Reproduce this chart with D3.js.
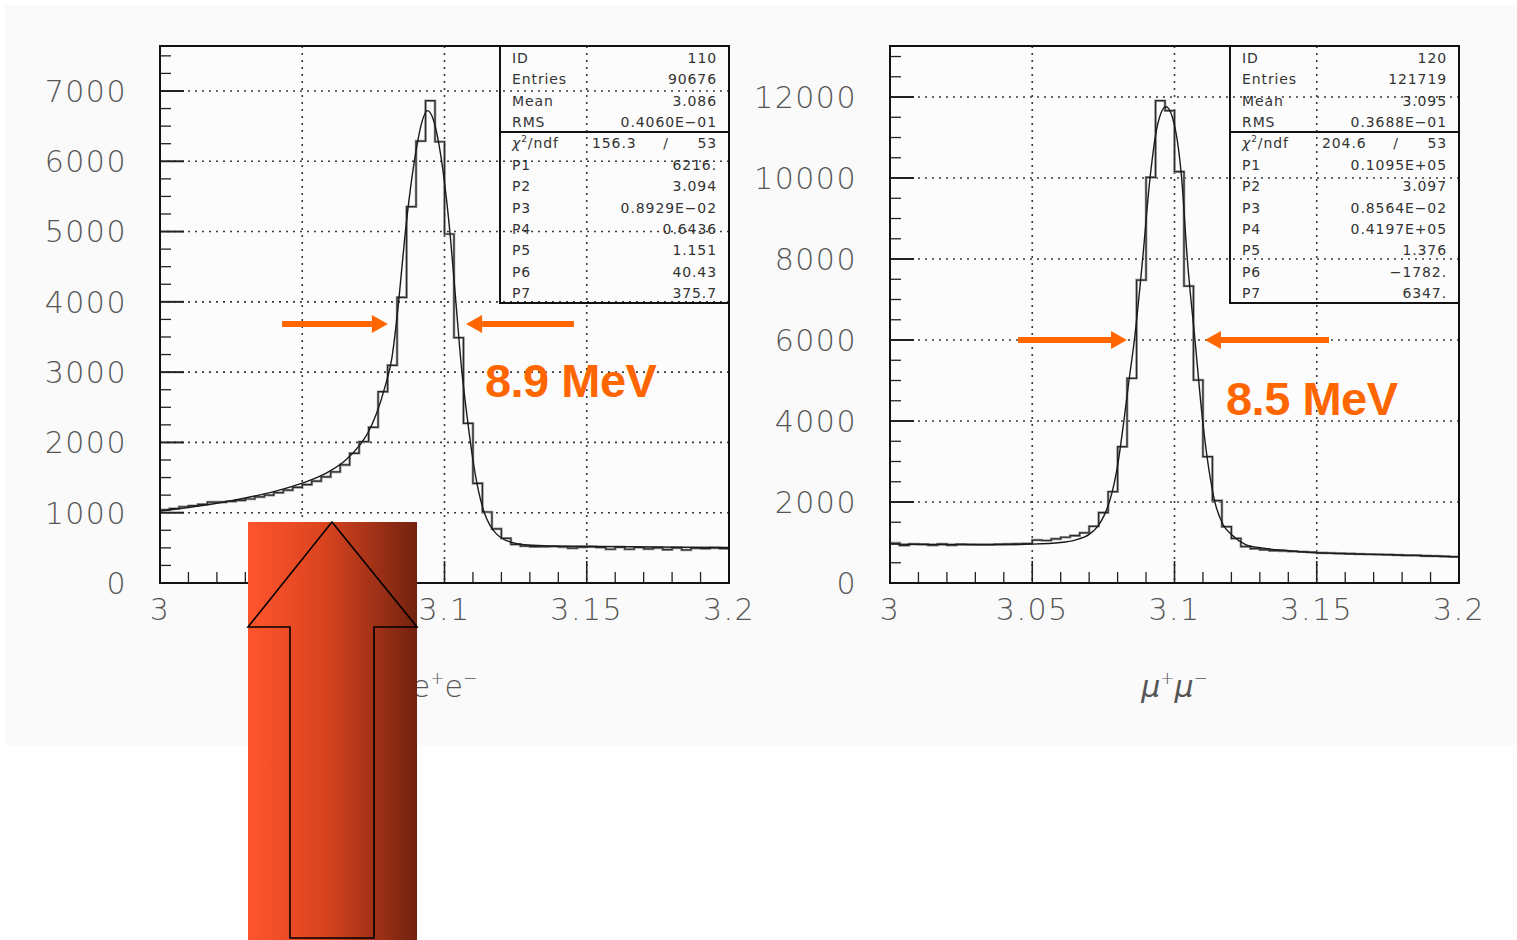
<!DOCTYPE html>
<html>
<head>
<meta charset="utf-8">
<script src="https://cdn.jsdelivr.net/npm/d3@7/dist/d3.min.js"></script>
<style>
  html, body { margin: 0; padding: 0; background: #ffffff; }
  svg { display: block; }
</style>
</head>
<body>
<svg id="chart" width="1517" height="940"></svg>
<script>
// ---------------- DATA ----------------
const massRange = [3.0, 3.2];
const nBins = 60;

// e+e- histogram, 60 bins from 3.0 to 3.2
const eeCounts = [
  1040, 1060, 1085, 1100, 1120, 1150, 1150, 1160, 1175, 1195,
  1225, 1250, 1285, 1320, 1360, 1400, 1450, 1510, 1580, 1680,
  1845, 2010, 2215, 2722, 3097, 4064, 5354, 6288, 6862, 6278,
  4965, 3490, 2272, 1418, 1010, 770, 636, 550, 526, 518,
  516, 520, 512, 495, 510, 515, 505, 480, 510, 480,
  505, 485, 500, 475, 500, 470, 495, 490, 500, 490
];
// e+e- fit curve (mass, counts)
const eeFitMass = [3.000, 3.010, 3.020, 3.030, 3.040, 3.050, 3.060, 3.065, 3.070, 3.073,
  3.076, 3.079, 3.0815, 3.084, 3.086, 3.088, 3.090, 3.092, 3.094, 3.096,
  3.098, 3.100, 3.102, 3.104, 3.106, 3.108, 3.110, 3.112, 3.114, 3.116,
  3.118, 3.120, 3.124, 3.128, 3.135, 3.150, 3.175, 3.200];
const eeFitCounts = [1025, 1075, 1135, 1210, 1300, 1420, 1600, 1740, 1950, 2130,
  2400, 2780, 3200, 4050, 4900, 5600, 6150, 6550, 6720, 6600,
  6250, 5700, 4950, 4000, 3050, 2350, 1750, 1300, 1000, 820,
  710, 640, 575, 545, 530, 522, 512, 505];

// mu+mu- histogram, 60 bins
const mmCounts = [
  975, 930, 960, 955, 935, 960, 935, 955, 950, 945,
  945, 955, 960, 965, 975, 1060, 1050, 1090, 1130, 1170,
  1240, 1400, 1737, 2255, 3366, 5054, 7481, 10017, 11909, 11662,
  10157, 7333, 5012, 3119, 2033, 1390, 1100, 900, 850, 820,
  800, 790, 780, 770, 760, 745, 740, 735, 725, 715,
  710, 705, 700, 690, 680, 685, 670, 665, 655, 650
];
const mmFitMass = [3.000, 3.020, 3.040, 3.050, 3.060, 3.065, 3.070, 3.073, 3.0755, 3.0771,
  3.080, 3.0822, 3.084, 3.0859, 3.0888, 3.0914, 3.094, 3.097, 3.100, 3.1025,
  3.1045, 3.1072, 3.1099, 3.1142, 3.117, 3.120, 3.125, 3.130, 3.140, 3.150,
  3.175, 3.200];
const mmFitCounts = [960, 950, 950, 960, 1000, 1060, 1200, 1400, 1700, 2000,
  2900, 4000, 5000, 6000, 8000, 10000, 11300, 11760, 11300, 10000,
  8000, 6000, 4000, 2000, 1450, 1200, 950, 870, 800, 745,
  700, 645];

// axes
const xTickValues = [3, 3.05, 3.1, 3.15, 3.2];
const xTickLabels = ["3", "3.05", "3.1", "3.15", "3.2"];
const eeYTicks = [0, 1000, 2000, 3000, 4000, 5000, 6000, 7000];
const mmYTicks = [0, 2000, 4000, 6000, 8000, 10000, 12000];
const eeYMax = 7640;
const mmYMax = 13260;

// statistics boxes
const eeStatLabels = ["ID", "Entries", "Mean", "RMS"];
const eeStatValues = ["110", "90676", "3.086", "0.4060E\u221201"];
const eeChi = ["156.3", "/", "53"];
const eeParLabels = ["P1", "P2", "P3", "P4", "P5", "P6", "P7"];
const eeParValues = ["6216.", "3.094", "0.8929E\u221202", "0.6436", "1.151", "40.43", "375.7"];

const mmStatLabels = ["ID", "Entries", "Mean", "RMS"];
const mmStatValues = ["120", "121719", "3.095", "0.3688E\u221201"];
const mmChi = ["204.6", "/", "53"];
const mmParLabels = ["P1", "P2", "P3", "P4", "P5", "P6", "P7"];
const mmParValues = ["0.1095E+05", "3.097", "0.8564E\u221202", "0.4197E+05", "1.376", "\u22121782.", "6347."];

// annotations (data coordinates)
const eeWidthLabel = "8.9 MeV";
const mmWidthLabel = "8.5 MeV";
const eeArrowY = 3685, eeArrowL = [3.0429, 3.0801], eeArrowR = [3.1455, 3.1076], eeLabelPos = [3.1142, 2646];
const mmArrowY = 6000, mmArrowL = [3.045, 3.0833], mmArrowR = [3.1543, 3.1107], mmLabelPos = [3.1181, 4148];

const eeTitle = "e";
const mmTitle = "\u03bc";

// ---------------- DRAWING ----------------
const svg = d3.select("#chart");
const defs = svg.append("defs");

// light page panel
svg.append("rect").attr("x", 5).attr("y", 5).attr("width", 1512).attr("height", 740)
  .attr("fill", "#fafafa");

const ORANGE = "#ff6600";
const tickFont = "'DejaVu Sans', sans-serif";

function drawPanel(cfg) {
  const g = svg.append("g");
  const x = d3.scaleLinear().domain(massRange).range([cfg.left, cfg.left + 569]);
  const y = d3.scaleLinear().domain([0, cfg.yMax]).range([583, 46]);
  const x0 = x.range()[0], x1 = x.range()[1], y0 = y.range()[0], y1 = y.range()[1];

  // plot background
  g.append("rect").attr("x", x0).attr("y", y1).attr("width", x1 - x0).attr("height", y0 - y1)
    .attr("fill", "#fcfcfc");

  // grid
  const grid = g.append("g").attr("stroke", "#3a3a3a").attr("stroke-width", 1.6)
    .attr("stroke-dasharray", "2,5").attr("fill", "none");
  cfg.yTicks.filter(v => v > 0).forEach(v => {
    grid.append("line").attr("x1", x0).attr("x2", x1).attr("y1", y(v)).attr("y2", y(v));
  });
  xTickValues.slice(1, -1).forEach(v => {
    grid.append("line").attr("x1", x(v)).attr("x2", x(v)).attr("y1", y1).attr("y2", y0);
  });

  // minor / major ticks
  const ticks = g.append("g").attr("stroke", "#222").attr("stroke-width", 1.3);
  const yMinor = d3.range(0, cfg.yMax, cfg.yMinorStep);
  yMinor.forEach(v => {
    const major = cfg.yTicks.includes(v);
    ticks.append("line").attr("x1", x0).attr("x2", x0 + (major ? 24 : 11))
      .attr("y1", y(v)).attr("y2", y(v)).attr("stroke-width", major ? 2 : 1.3);
  });
  d3.range(0, 21).forEach(i => {
    const v = 3 + i * 0.01;
    const major = i % 5 === 0;
    ticks.append("line").attr("x1", x(v)).attr("x2", x(v))
      .attr("y1", y0).attr("y2", y0 - (major ? 22 : 11)).attr("stroke-width", major ? 1.6 : 1.3);
  });

  // histogram
  const edges = d3.range(nBins + 1).map(i => massRange[0] + i * (massRange[1] - massRange[0]) / nBins);
  const pts = cfg.counts.map((c, i) => [edges[i], c]);
  pts.push([edges[nBins], cfg.counts[nBins - 1]]);
  const histLine = d3.line().x(d => x(d[0])).y(d => y(d[1])).curve(d3.curveStepAfter);
  g.append("path").attr("d", histLine(pts)).attr("fill", "none")
    .attr("stroke", "#9a9a9a").attr("stroke-width", 2.6);
  g.append("path").attr("d", histLine(pts)).attr("fill", "none")
    .attr("stroke", "#2a2a2a").attr("stroke-width", 1.2);

  // fit curve
  const fitPts = cfg.fitMass.map((m, i) => [m, cfg.fitCounts[i]]);
  const fitLine = d3.line().x(d => x(d[0])).y(d => y(d[1])).curve(d3.curveMonotoneX);
  g.append("path").attr("d", fitLine(fitPts)).attr("fill", "none")
    .attr("stroke", "#1a1a1a").attr("stroke-width", 1.4);

  // frame
  g.append("rect").attr("x", x0).attr("y", y1).attr("width", x1 - x0).attr("height", y0 - y1)
    .attr("fill", "none").attr("stroke", "#111").attr("stroke-width", 2);

  // y labels
  g.append("g").selectAll("text").data(cfg.yTicks).join("text")
    .attr("x", x0 - 33).attr("y", d => y(d)).attr("dy", "0.36em")
    .attr("text-anchor", "end").attr("font-family", tickFont).attr("font-size", 30)
    .attr("font-weight", 200).attr("letter-spacing", 1.5).attr("fill", "#555")
    .text(d => d3.format("d")(d));
  // x labels
  g.append("g").selectAll("text").data(xTickValues).join("text")
    .attr("x", (d, i) => x(d) + (i === 0 ? 0 : 0)).attr("y", 620)
    .attr("text-anchor", "middle").attr("font-family", tickFont).attr("font-size", 30)
    .attr("font-weight", 200).attr("letter-spacing", 1.5).attr("fill", "#555")
    .text((d, i) => xTickLabels[i]);

  // axis title
  const t = g.append("text").attr("x", x(3.1)).attr("y", 697).attr("text-anchor", "middle")
    .attr("font-family", tickFont).attr("font-size", 30).attr("font-weight", 200).attr("fill", "#555");
  t.append("tspan").attr("font-style", cfg.italicTitle ? "italic" : "normal").text(cfg.title);
  t.append("tspan").attr("font-size", 17).attr("dy", -13).text("+");
  t.append("tspan").attr("font-style", cfg.italicTitle ? "italic" : "normal").attr("dy", 13).text(cfg.title);
  t.append("tspan").attr("font-size", 17).attr("dy", -13).text("\u2212");

  // stats box
  const bx0 = x1 - 229, bx1 = x1, by0 = y1, by1 = 303, bdiv = 132;
  const sb = g.append("g");
  sb.append("rect").attr("x", bx0).attr("y", by0).attr("width", bx1 - bx0).attr("height", by1 - by0)
    .attr("fill", "none").attr("stroke", "#111").attr("stroke-width", 2);
  sb.append("line").attr("x1", bx0).attr("x2", bx1).attr("y1", bdiv).attr("y2", bdiv)
    .attr("stroke", "#111").attr("stroke-width", 2.2);
  const rowY = i => 58 + i * 21.36 + 5;
  const sFont = { "font-family": tickFont, "font-size": 14, "fill": "#333", "letter-spacing": 0.9 };
  const applyFont = sel => { Object.entries(sFont).forEach(([k, v]) => sel.attr(k, v)); return sel; };
  const labels = cfg.statLabels.concat(["__chi"]).concat(cfg.parLabels);
  const values = cfg.statValues.concat(["__chi"]).concat(cfg.parValues);
  labels.forEach((lab, i) => {
    if (lab === "__chi") {
      const ct = applyFont(sb.append("text")).attr("x", bx0 + 12).attr("y", rowY(i));
      ct.append("tspan").attr("font-style", "italic").text("\u03c7");
      ct.append("tspan").attr("font-size", 9).attr("dy", -6).text("2");
      ct.append("tspan").attr("dy", 6).text("/ndf");
      applyFont(sb.append("text")).attr("x", bx0 + 92).attr("y", rowY(i)).text(cfg.chi[0]);
      applyFont(sb.append("text")).attr("x", bx0 + 166).attr("y", rowY(i)).attr("text-anchor", "middle").text(cfg.chi[1]);
      applyFont(sb.append("text")).attr("x", bx1 - 12).attr("y", rowY(i)).attr("text-anchor", "end").text(cfg.chi[2]);
    } else {
      applyFont(sb.append("text")).attr("x", bx0 + 12).attr("y", rowY(i)).text(lab);
      applyFont(sb.append("text")).attr("x", bx1 - 12).attr("y", rowY(i)).attr("text-anchor", "end").text(values[i]);
    }
  });

  // width arrows
  const ay = y(cfg.arrowY);
  function arrow(fromM, toM) {
    const xa = x(fromM), xb = x(toM);
    const dir = Math.sign(xb - xa);
    const headLen = 16, headHalf = 9;
    g.append("line").attr("x1", xa).attr("x2", xb - dir * headLen).attr("y1", ay).attr("y2", ay)
      .attr("stroke", ORANGE).attr("stroke-width", 6);
    g.append("path").attr("d", `M${xb},${ay} L${xb - dir * headLen},${ay - headHalf} L${xb - dir * headLen},${ay + headHalf} Z`)
      .attr("fill", ORANGE);
  }
  arrow(cfg.arrowL[0], cfg.arrowL[1]);
  arrow(cfg.arrowR[0], cfg.arrowR[1]);
  g.append("text").attr("x", x(cfg.labelPos[0])).attr("y", y(cfg.labelPos[1]))
    .attr("font-family", "'Liberation Sans', Arial, sans-serif").attr("font-weight", "bold")
    .attr("font-size", 47).attr("fill", ORANGE).attr("letter-spacing", -0.5).text(cfg.widthLabel);
}

drawPanel({
  left: 160, yMax: eeYMax, yTicks: eeYTicks, yMinorStep: 250,
  counts: eeCounts, fitMass: eeFitMass, fitCounts: eeFitCounts,
  statLabels: eeStatLabels, statValues: eeStatValues, chi: eeChi,
  parLabels: eeParLabels, parValues: eeParValues,
  arrowY: eeArrowY, arrowL: eeArrowL, arrowR: eeArrowR, labelPos: eeLabelPos, widthLabel: eeWidthLabel,
  title: eeTitle, italicTitle: false
});
drawPanel({
  left: 890, yMax: mmYMax, yTicks: mmYTicks, yMinorStep: 500,
  counts: mmCounts, fitMass: mmFitMass, fitCounts: mmFitCounts,
  statLabels: mmStatLabels, statValues: mmStatValues, chi: mmChi,
  parLabels: mmParLabels, parValues: mmParValues,
  arrowY: mmArrowY, arrowL: mmArrowL, arrowR: mmArrowR, labelPos: mmLabelPos, widthLabel: mmWidthLabel,
  title: mmTitle, italicTitle: true
});

// big gradient up-arrow overlay
const grad = defs.append("linearGradient").attr("id", "arrowGrad")
  .attr("x1", "0%").attr("x2", "100%").attr("y1", "0%").attr("y2", "0%");
grad.append("stop").attr("offset", "0%").attr("stop-color", "#ff552d");
grad.append("stop").attr("offset", "45%").attr("stop-color", "#d9441f");
grad.append("stop").attr("offset", "100%").attr("stop-color", "#722210");
svg.append("rect").attr("x", 248).attr("y", 522).attr("width", 169).attr("height", 418)
  .attr("fill", "url(#arrowGrad)");
svg.append("path")
  .attr("d", "M332,522 L417,627 L374,627 L374,938 L290,938 L290,627 L248,627 Z")
  .attr("fill", "none").attr("stroke", "#000").attr("stroke-width", 1.6).attr("stroke-linejoin", "miter");
</script>
</body>
</html>
